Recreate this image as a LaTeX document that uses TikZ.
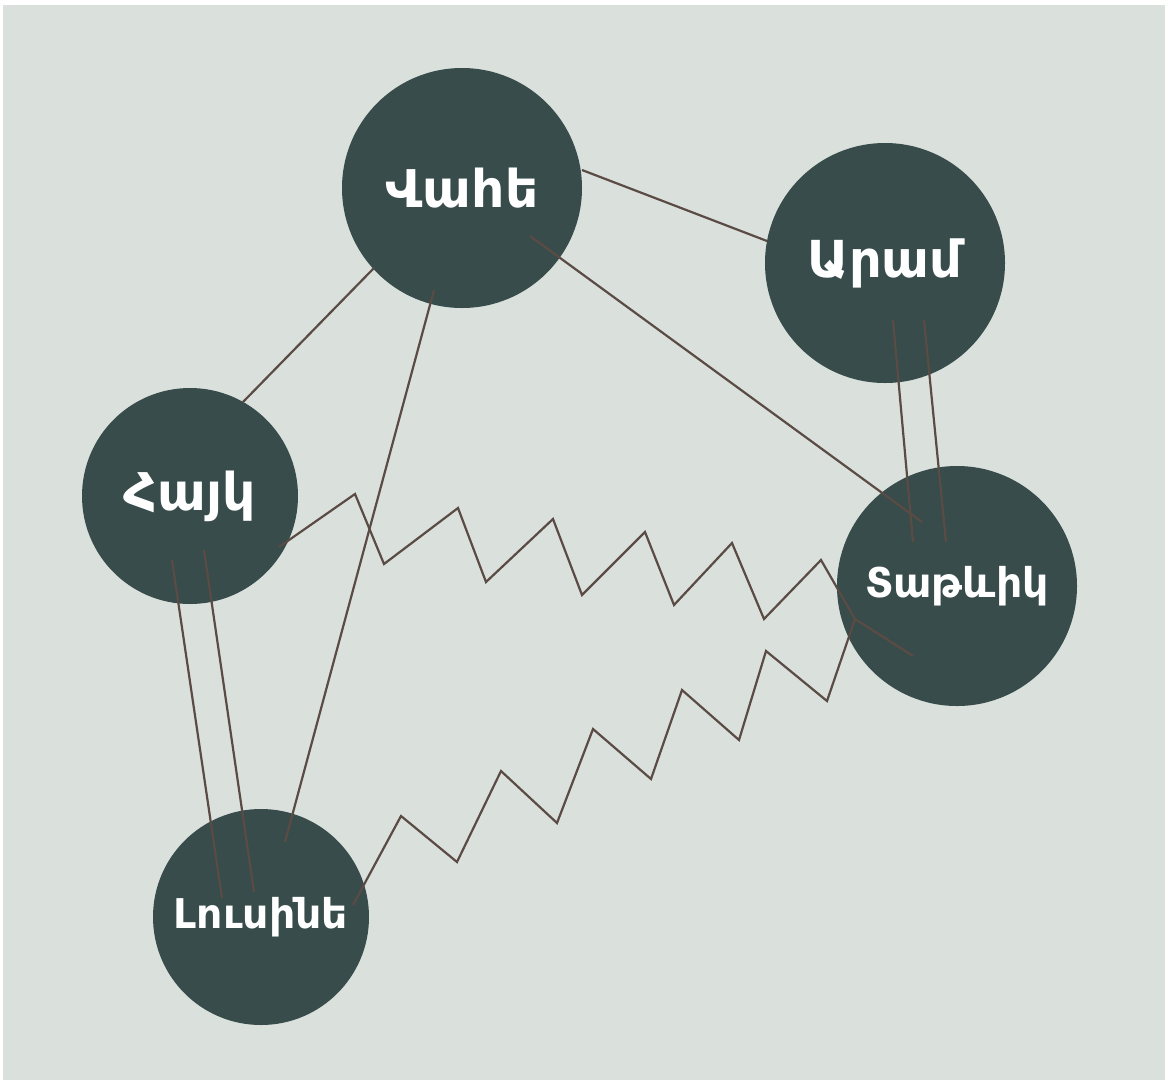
\documentclass[tikz,border=0pt]{standalone}
\usepackage{fontspec}
\setmainfont{DejaVu Sans}
\definecolor{bg}{HTML}{DAE0DC}
\definecolor{nodefill}{HTML}{374C4B}
\definecolor{edge}{HTML}{5B4B45}
\begin{document}
\begin{tikzpicture}[x=1pt,y=-1pt,
  person/.style={circle,fill=nodefill,text=white,inner sep=0pt,font=\bfseries},
  link/.style={draw=edge,line width=2.2pt,line join=miter}]
\useasboundingbox (0,0) rectangle (1165,1080);
\fill[white] (0,0) rectangle (1165,1080);
\fill[bg] (3,5) rectangle (1165,1080);
% nodes
\node[person,minimum size=240pt,font=\bfseries\fontsize{52}{60}\selectfont] (vahe) at (462,188) {Վահե};
\node[person,minimum size=240pt,font=\bfseries\fontsize{51}{60}\selectfont] (aram) at (885,263) {Արամ};
\node[person,minimum size=216pt,font=\bfseries\fontsize{52}{60}\selectfont] (hayk) at (190,496) {Հայկ};
\node[person,minimum size=240pt,font=\bfseries\fontsize{41}{48}\selectfont] (tar) at (957,586) {Տաթևիկ};
\node[person,minimum size=216pt,font=\bfseries\fontsize{41}{48}\selectfont] (lus) at (261,917) {Լուսինե};
% connector end points
\coordinate (va1) at (582,170); \coordinate (ar1) at (767,241);
\coordinate (va2) at (530,236); \coordinate (ta2) at (922,522);
\coordinate (va3) at (374,268); \coordinate (ha3) at (243,402);
\coordinate (va4) at (434,290); \coordinate (lu4) at (285,842);
\coordinate (ar5) at (893,320); \coordinate (ta5) at (913,542);
\coordinate (ar6) at (924,320); \coordinate (ta6) at (946,542);
\coordinate (ha7) at (172,560); \coordinate (lu7) at (222,898);
\coordinate (ha8) at (204,550); \coordinate (lu8) at (254,892);
\coordinate (ha9) at (279,547); \coordinate (ta9) at (913,656);
\coordinate (lu10) at (353,905); \coordinate (ta10) at (855,619);
% connectors
\draw[link] (va1) -- (ar1);
\draw[link] (va2) -- (ta2);
\draw[link] (va3) -- (ha3);
\draw[link] (va4) -- (lu4);
\draw[link] (ar5) -- (ta5);
\draw[link] (ar6) -- (ta6);
\draw[link] (ha7) -- (lu7);
\draw[link] (ha8) -- (lu8);
\draw[link] (ha9) -- (355,494) -- (384,564) -- (458,508) -- (486,582) -- (553,519) -- (582,595) -- (645,532) -- (674,605) -- (732,543) -- (764,619) -- (821,560) -- (855,619) -- (ta9);
\draw[link] (lu10) -- (401,816) -- (457,862) -- (501,771) -- (557,823) -- (593,729) -- (651,779) -- (682,690) -- (739,740) -- (766,651) -- (827,701) -- (ta10);
\end{tikzpicture}
\end{document}
